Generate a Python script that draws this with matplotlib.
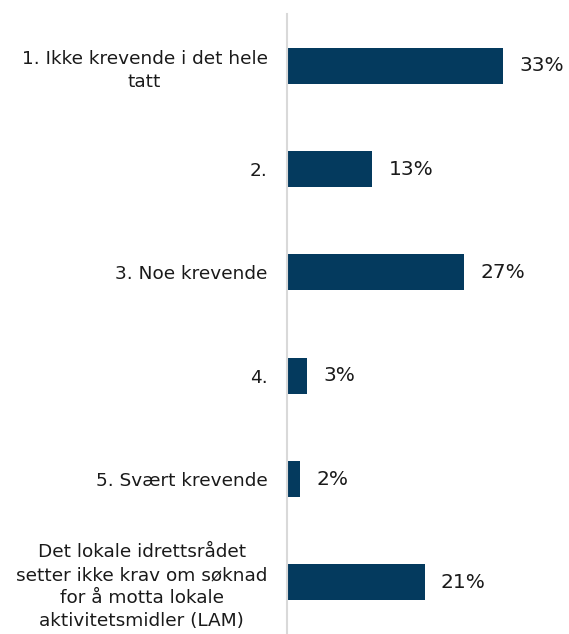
import matplotlib.pyplot as plt

categories = [
    "1. Ikke krevende i det hele\ntatt",
    "2.",
    "3. Noe krevende",
    "4.",
    "5. Svært krevende",
    "Det lokale idrettsrådet\nsetter ikke krav om søknad\nfor å motta lokale\naktivitetsmidler (LAM)",
]
values = [33, 13, 27, 3, 2, 21]
value_labels = ["33%", "13%", "27%", "3%", "2%", "21%"]

plt.rcParams['font.family'] = ['DejaVu Sans']

fig = plt.figure(figsize=(5.69, 6.34), dpi=100)
ax = fig.add_axes([287 / 569, 0.0, (562 - 287) / 569, (634 - 14) / 634])

y = list(range(len(categories)))
ax.barh(y, values, height=0.35, color='#043a5e')
for yi, v, lab in zip(y, values, value_labels):
    ax.text(v + 2.5, yi, lab, va='center', ha='left', fontsize=14.5, color='#1a1a1a')

ax.set_ylim(len(categories) - 0.5, -0.5)
ax.set_xlim(0, 42)
ax.set_yticks(y)
ax.set_yticklabels(categories, fontsize=13.3, color='#1a1a1a', linespacing=1.35,
                   multialignment='center')
ax.tick_params(axis='y', length=0, pad=14)
ax.set_xticks([])
for s in ['top', 'right', 'bottom']:
    ax.spines[s].set_visible(False)
ax.spines['left'].set_color('#d9d9d9')
ax.spines['left'].set_linewidth(1.5)

fig.savefig('out.png', dpi=100)
